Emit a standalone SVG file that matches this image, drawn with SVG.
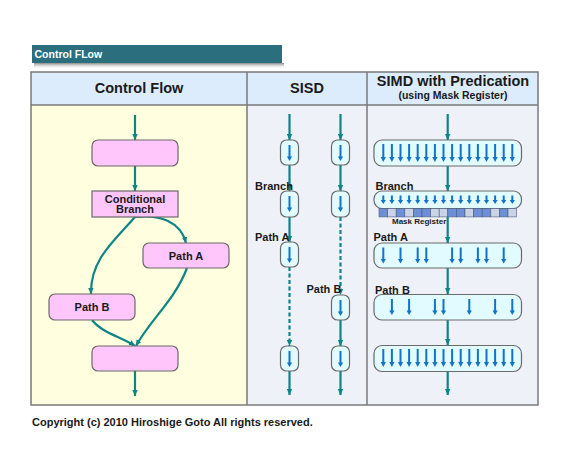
<svg xmlns="http://www.w3.org/2000/svg" width="580" height="453" viewBox="0 0 580 453">
<style>
.t{font-family:"Liberation Sans",Arial,sans-serif;font-weight:bold;fill:#1a1a1a}
.hd{font-size:14.5px;text-anchor:middle}
.lb{font-size:11px}
.c{text-anchor:middle}
.pk{fill:#ffc6fb;stroke:#6a6a6a;stroke-width:1.2}
.cy{fill:#e2fbff;stroke:#6a6a6a;stroke-width:1.2}
.cn{fill:none;stroke:#0e8585;stroke-width:2.2}
.ar{marker-end:url(#ta)}
.ds{stroke-dasharray:4 2.5}
.bl{stroke:#1273c8;stroke-width:2;fill:none}
.bh{fill:#1273c8}
.md{fill:#6d8fd8;stroke:#4b5a78;stroke-width:0.6}
.ml{fill:#cad4e6;stroke:#4b5a78;stroke-width:0.6}
.bd{fill:none;stroke:#7a7a7a;stroke-width:1.5}
</style>
<defs>
<marker id="ta" viewBox="0 0 6 6" markerUnits="userSpaceOnUse" markerWidth="6" markerHeight="6" refX="6" refY="3" orient="auto"><path d="M0,0.3 L6,3 L0,5.7 z" fill="#0e8585"/></marker>
<linearGradient id="sh" x1="0" y1="0" x2="0" y2="1"><stop offset="0" stop-color="#8a8a8a"/><stop offset="1" stop-color="#ffffff" stop-opacity="0"/></linearGradient>
<g id="a18"><path class="bl" d="M0,0 V14"/><path class="bh" d="M-2.6,13 L2.6,13 L0,18 z"/></g>
<g id="a16"><path class="bl" d="M0,0 V12"/><path class="bh" d="M-2.6,11.5 L2.6,11.5 L0,16 z"/></g>
<g id="a9"><path class="bl" d="M0,0 V5"/><path class="bh" d="M-2.6,4.5 L2.6,4.5 L0,8.5 z"/></g>
</defs>

<rect x="0" y="0" width="580" height="453" fill="#ffffff"/>

<g id="title">
<rect x="34" y="63" width="250" height="6" fill="url(#sh)"/>
<rect x="32" y="45" width="250" height="18" fill="#2b6f7e"/>
<text class="t" x="34.5" y="57.5" font-size="10.5" style="fill:#ffffff">Control FLow</text>
</g>

<g id="table">
<rect x="31" y="72" width="507" height="33" fill="#dcecfc"/>
<rect x="31" y="105" width="216" height="300" fill="#ffffe0"/>
<rect x="247" y="105" width="291" height="300" fill="#eef1f7"/>
<rect class="bd" x="31" y="72" width="507" height="333"/>
<path class="bd" d="M31,105 H538 M247,72 V405 M367,72 V405"/>
<text class="t hd" x="139" y="93">Control Flow</text>
<text class="t hd" x="307" y="93">SISD</text>
<text class="t hd" x="453" y="85.5">SIMD with Predication</text>
<text class="t c" x="453" y="98.5" font-size="10.5">(using Mask Register)</text>
</g>

<g id="connectors">
<path class="cn ar" d="M135,115 V140"/>
<path class="cn ar" d="M135,166 V191"/>
<path class="cn ar" d="M135,217 C160,214 181,222 186,243"/>
<path class="cn ar" d="M135,217 C114,241 90,260 91,294"/>
<path class="cn ar" d="M92,320 C102,333 122,337 135,346"/>
<path class="cn ar" d="M187,268 C175,300 150,320 136,346"/>
<path class="cn ar" d="M135,371 V396"/>

<path class="cn ar" d="M289.5,114 V140"/>
<path class="cn ar" d="M289.5,165 V191"/>
<path class="cn ar" d="M289.5,217 V242"/>
<path class="cn ds ar" d="M289.5,267 V346"/>
<path class="cn ar" d="M289.5,371 V395"/>

<path class="cn ar" d="M340.5,114 V140"/>
<path class="cn ar" d="M340.5,165 V191"/>
<path class="cn ds ar" d="M340.5,217 V295"/>
<path class="cn ar" d="M340.5,320 V346"/>
<path class="cn ar" d="M340.5,371 V395"/>

<path class="cn ar" d="M447.7,114 V140"/>
<path class="cn ar" d="M447.7,166 V191"/>
<path class="cn ar" d="M447.7,217 V243"/>
<path class="cn ar" d="M447.7,268 V294"/>
<path class="cn ar" d="M447.7,320 V345"/>
<path class="cn ar" d="M447.7,371.5 V395"/>
</g>

<g id="cf-start"><rect class="pk" x="92" y="140" width="86" height="26" rx="6"/></g>
<g id="cf-branch"><rect class="pk" x="92" y="191" width="86" height="26"/>
<text class="t lb c" x="135" y="202.5">Conditional</text>
<text class="t lb c" x="135" y="213">Branch</text></g>
<g id="cf-pathA"><rect class="pk" x="143" y="243" width="86" height="25" rx="6"/>
<text class="t lb c" x="186" y="259.5">Path A</text></g>
<g id="cf-pathB"><rect class="pk" x="49" y="294" width="86" height="26" rx="6"/>
<text class="t lb c" x="92" y="311">Path B</text></g>
<g id="cf-merge"><rect class="pk" x="92" y="346" width="86" height="25" rx="6"/></g>

<g id="sisd-labels">
<text class="t lb" x="255" y="189.5">Branch</text>
<text class="t lb" x="255" y="241">Path A</text>
<text class="t lb" x="306.5" y="292.5">Path B</text>
</g>
<g id="sisd-l1"><rect class="cy" x="280.5" y="140" width="18" height="25" rx="6"/><use href="#a16" x="289.5" y="145"/></g>
<g id="sisd-l2"><rect class="cy" x="280.5" y="191" width="18" height="26" rx="6"/><use href="#a16" x="289.5" y="196"/></g>
<g id="sisd-l3"><rect class="cy" x="280.5" y="242" width="18" height="25" rx="6"/><use href="#a16" x="289.5" y="247"/></g>
<g id="sisd-l4"><rect class="cy" x="280.5" y="346" width="18" height="25" rx="6"/><use href="#a16" x="289.5" y="351"/></g>
<g id="sisd-r1"><rect class="cy" x="331.5" y="140" width="18" height="25" rx="6"/><use href="#a16" x="340.5" y="145"/></g>
<g id="sisd-r2"><rect class="cy" x="331.5" y="191" width="18" height="26" rx="6"/><use href="#a16" x="340.5" y="196"/></g>
<g id="sisd-r3"><rect class="cy" x="331.5" y="295" width="18" height="25" rx="6"/><use href="#a16" x="340.5" y="300"/></g>
<g id="sisd-r4"><rect class="cy" x="331.5" y="346" width="18" height="25" rx="6"/><use href="#a16" x="340.5" y="351"/></g>

<g id="simd-labels">
<text class="t lb" x="375.5" y="189.5">Branch</text>
<text class="t lb" x="373.5" y="241">Path A</text>
<text class="t lb" x="375" y="294">Path B</text>
</g>

<g id="simd-1"><rect class="cy" x="374" y="140" width="147.5" height="26" rx="8"/>
<use href="#a18" x="383.3" y="144"/><use href="#a18" x="391.9" y="144"/><use href="#a18" x="400.5" y="144"/><use href="#a18" x="409.1" y="144"/>
<use href="#a18" x="417.7" y="144"/><use href="#a18" x="426.3" y="144"/><use href="#a18" x="434.9" y="144"/><use href="#a18" x="443.5" y="144"/>
<use href="#a18" x="452.1" y="144"/><use href="#a18" x="460.7" y="144"/><use href="#a18" x="469.3" y="144"/><use href="#a18" x="477.9" y="144"/>
<use href="#a18" x="486.5" y="144"/><use href="#a18" x="495.1" y="144"/><use href="#a18" x="503.7" y="144"/><use href="#a18" x="512.3" y="144"/>
</g>

<g id="simd-branch"><rect class="cy" x="374" y="191" width="147.5" height="17.5" rx="8"/>
<use href="#a9" x="383.3" y="195.5"/><use href="#a9" x="391.9" y="195.5"/><use href="#a9" x="400.5" y="195.5"/><use href="#a9" x="409.1" y="195.5"/>
<use href="#a9" x="417.7" y="195.5"/><use href="#a9" x="426.3" y="195.5"/><use href="#a9" x="434.9" y="195.5"/><use href="#a9" x="443.5" y="195.5"/>
<use href="#a9" x="452.1" y="195.5"/><use href="#a9" x="460.7" y="195.5"/><use href="#a9" x="469.3" y="195.5"/><use href="#a9" x="477.9" y="195.5"/>
<use href="#a9" x="486.5" y="195.5"/><use href="#a9" x="495.1" y="195.5"/><use href="#a9" x="503.7" y="195.5"/><use href="#a9" x="512.3" y="195.5"/>
</g>

<g id="mask-register">
<rect class="md" x="379" y="208.5" width="8.6" height="8.4"/>
<rect class="ml" x="387.6" y="208.5" width="8.6" height="8.4"/>
<rect class="md" x="396.2" y="208.5" width="8.6" height="8.4"/>
<rect class="ml" x="404.8" y="208.5" width="8.6" height="8.4"/>
<rect class="md" x="413.4" y="208.5" width="8.6" height="8.4"/>
<rect class="md" x="422" y="208.5" width="8.6" height="8.4"/>
<rect class="ml" x="430.6" y="208.5" width="8.6" height="8.4"/>
<rect class="ml" x="439.2" y="208.5" width="8.6" height="8.4"/>
<rect class="md" x="447.8" y="208.5" width="8.6" height="8.4"/>
<rect class="md" x="456.4" y="208.5" width="8.6" height="8.4"/>
<rect class="ml" x="465" y="208.5" width="8.6" height="8.4"/>
<rect class="md" x="473.6" y="208.5" width="8.6" height="8.4"/>
<rect class="md" x="482.2" y="208.5" width="8.6" height="8.4"/>
<rect class="ml" x="490.8" y="208.5" width="8.6" height="8.4"/>
<rect class="md" x="499.4" y="208.5" width="8.6" height="8.4"/>
<rect class="ml" x="508" y="208.5" width="8.6" height="8.4"/>
<text class="t" x="392" y="223.5" font-size="8">Mask Register</text>
</g>

<g id="simd-pathA"><rect class="cy" x="374" y="243" width="147.5" height="25" rx="8"/>
<use href="#a16" x="383.3" y="247.5"/><use href="#a16" x="400.5" y="247.5"/><use href="#a16" x="417.7" y="247.5"/><use href="#a16" x="426.3" y="247.5"/>
<use href="#a16" x="452.1" y="247.5"/><use href="#a16" x="460.7" y="247.5"/><use href="#a16" x="477.9" y="247.5"/><use href="#a16" x="486.5" y="247.5"/>
<use href="#a16" x="503.7" y="247.5"/>
</g>

<g id="simd-pathB"><rect class="cy" x="374" y="294.5" width="147.5" height="25.5" rx="8"/>
<use href="#a16" x="391.9" y="299"/><use href="#a16" x="409.1" y="299"/><use href="#a16" x="434.9" y="299"/><use href="#a16" x="443.5" y="299"/>
<use href="#a16" x="469.3" y="299"/><use href="#a16" x="495.1" y="299"/><use href="#a16" x="512.3" y="299"/>
</g>

<g id="simd-merge"><rect class="cy" x="374" y="345.5" width="147.5" height="26" rx="8"/>
<use href="#a18" x="383.3" y="349"/><use href="#a18" x="391.9" y="349"/><use href="#a18" x="400.5" y="349"/><use href="#a18" x="409.1" y="349"/>
<use href="#a18" x="417.7" y="349"/><use href="#a18" x="426.3" y="349"/><use href="#a18" x="434.9" y="349"/><use href="#a18" x="443.5" y="349"/>
<use href="#a18" x="452.1" y="349"/><use href="#a18" x="460.7" y="349"/><use href="#a18" x="469.3" y="349"/><use href="#a18" x="477.9" y="349"/>
<use href="#a18" x="486.5" y="349"/><use href="#a18" x="495.1" y="349"/><use href="#a18" x="503.7" y="349"/><use href="#a18" x="512.3" y="349"/>
</g>

<text class="t" x="32" y="426" font-size="11">Copyright (c) 2010 Hiroshige Goto All rights reserved.</text>
</svg>
